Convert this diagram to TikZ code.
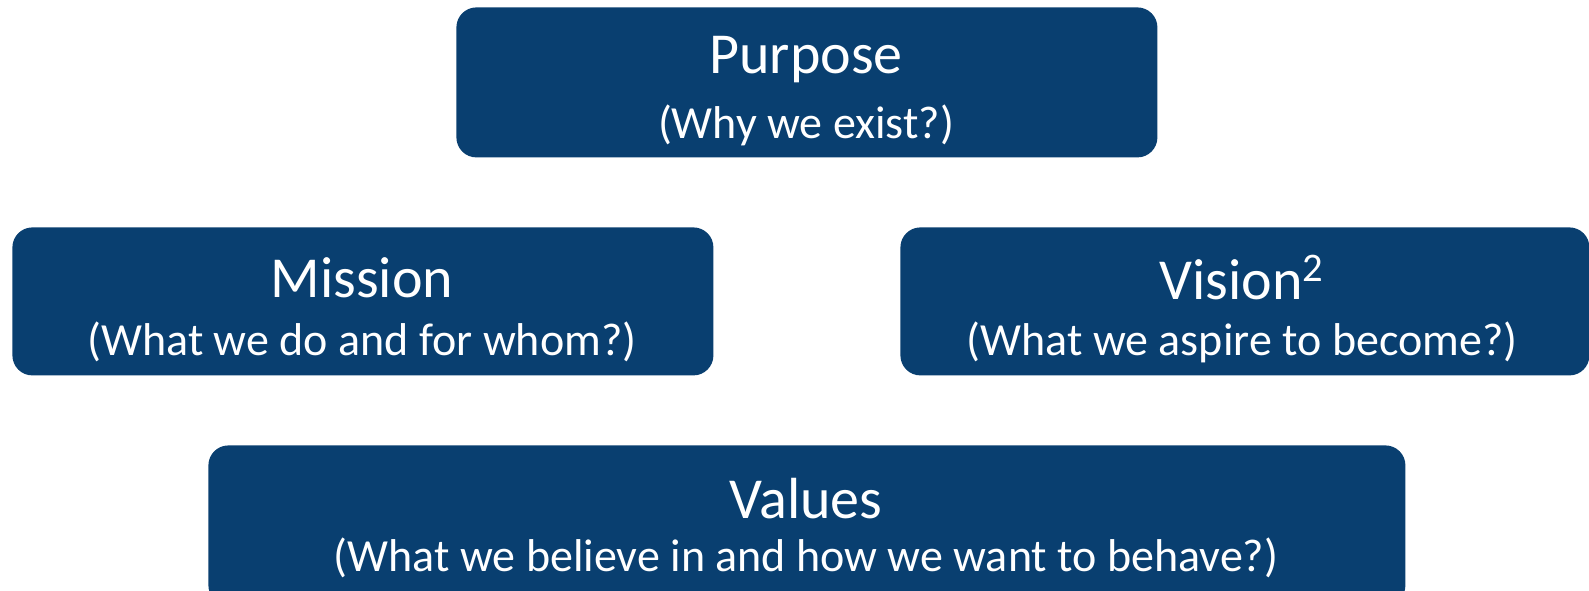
\documentclass[tikz,border=0pt]{standalone}
\usepackage{fontspec}
\setmainfont{Carlito}
\definecolor{boxblue}{RGB}{9,63,112}
\begin{document}
\begin{tikzpicture}[x=0.5pt,y=-0.5pt,
  box/.style={fill=boxblue, rounded corners=10pt, draw=none, inner sep=0pt},
  txt/.style={text=white, align=center, inner sep=0pt},
  head/.style={txt, font=\fontsize{29pt}{30pt}\selectfont},
  sub/.style={txt, font=\fontsize{23pt}{30pt}\selectfont}]
\useasboundingbox (0,0) rectangle (1589,590);
\begin{scope}
\clip (0,0) rectangle (1589,590);
\node[box, minimum width=350.5pt, minimum height=75pt, anchor=north west] (purpose) at (456,7) {};
\node[box, minimum width=350.5pt, minimum height=74pt, anchor=north west] (mission) at (12,227) {};
\node[box, minimum width=344.5pt, minimum height=74pt, anchor=north west] (vision) at (900,227) {};
\node[box, minimum width=598.5pt, minimum height=80pt, anchor=north west] (values) at (208,445) {};
\end{scope}
\node[head] (purposeT) at (806,60) {Purpose};
\node[sub] (purposeS) at (806,125) {(Why we exist?)};
\node[head] (missionT) at (362,278) {Mission};
\node[sub] (missionS) at (362,342) {(What we do and for whom?)};
\node[head] (visionT) at (1242,278) {Vision\textsuperscript{2}};
\node[sub] (visionS) at (1242,342) {(What we aspire to become?)};
\node[head] (valuesT) at (806,499) {Values};
\node[sub] (valuesS) at (806,558) {(What we believe in and how we want to behave?)};
\end{tikzpicture}
\end{document}
